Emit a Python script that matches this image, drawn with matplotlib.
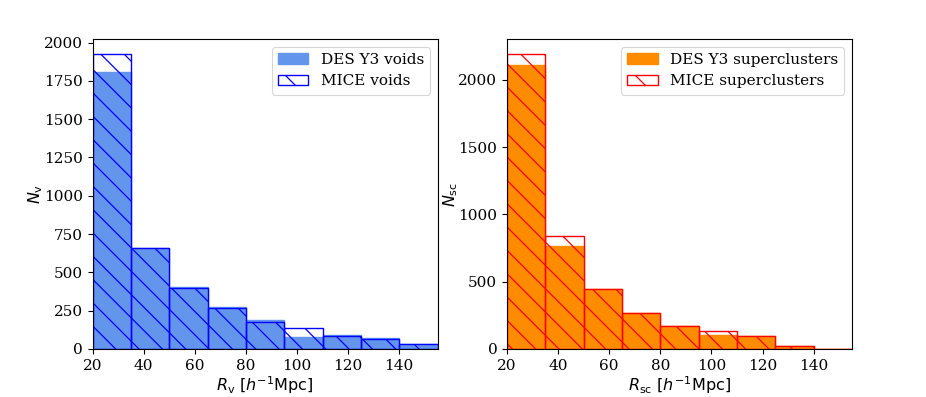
import numpy as np
import matplotlib
matplotlib.use("Agg")
import matplotlib.pyplot as plt

bin_edges = [20, 35, 50, 65, 80, 95, 110, 125, 140, 155]

des_voids = [1805, 660, 405, 274, 190, 78, 91, 69, 34]
mice_voids = [1927, 657, 397, 270, 178, 135, 87, 63, 30]

des_sc = [2109, 767, 447, 268, 171, 106, 97, 25, 1]
mice_sc = [2194, 839, 447, 268, 171, 132, 97, 23, 3]

DPI = 70
k = 100.0 / DPI  # scale point sizes so the picture matches at this dpi

plt.rcParams['font.family'] = ['DejaVu Serif']
plt.rcParams['mathtext.fontset'] = 'dejavusans'
plt.rcParams['hatch.linewidth'] = 0.9 * k
plt.rcParams['axes.linewidth'] = 0.8 * k
plt.rcParams['xtick.major.width'] = 0.8 * k
plt.rcParams['ytick.major.width'] = 0.8 * k
plt.rcParams['xtick.major.size'] = 3.5 * k
plt.rcParams['ytick.major.size'] = 3.5 * k
plt.rcParams['xtick.major.pad'] = 3.5 * k
plt.rcParams['ytick.major.pad'] = 3.5 * k
plt.rcParams['legend.borderpad'] = 0.4
plt.rcParams['legend.framealpha'] = 0.8

fig = plt.figure(figsize=(926 / DPI, 397 / DPI), dpi=DPI)
ax1 = fig.add_axes([92.5 / 926, 48 / 397, 345 / 926, 310 / 397])
ax2 = fig.add_axes([507 / 926, 48 / 397, 345 / 926, 310 / 397])

centers = [(a + b) / 2 for a, b in zip(bin_edges[:-1], bin_edges[1:])]


def panel(ax, des, mice, fillc, edgec, des_lab, mice_lab, xlab, ylab):
    ax.hist(centers, bins=bin_edges, weights=des, color=fillc,
            edgecolor=fillc, linewidth=1.0 * k, label=des_lab)
    ax.hist(centers, bins=bin_edges, weights=mice, fill=False, hatch='\\',
            edgecolor=edgec, linewidth=1.0 * k, label=mice_lab)
    ax.set_xlim(20, 155)
    ax.set_xticks([20, 40, 60, 80, 100, 120, 140])
    ax.set_xlabel(xlab, fontsize=11.5 * k, labelpad=0.8 * k)
    ax.set_ylabel(ylab, fontsize=11.5 * k, labelpad=-1.2 * k)
    ax.tick_params(labelsize=11 * k)
    leg = ax.legend(loc='upper right', fontsize=11 * k)
    leg.get_frame().set_linewidth(0.8 * k)


panel(ax1, des_voids, mice_voids, 'cornflowerblue', 'blue',
      'DES Y3 voids', 'MICE voids',
      r'$R_{\rm v}\ [h^{-1}{\rm Mpc}]$', r'$N_{\rm v}$')
panel(ax2, des_sc, mice_sc, 'darkorange', 'red',
      'DES Y3 superclusters', 'MICE superclusters',
      r'$R_{\rm sc}\ [h^{-1}{\rm Mpc}]$', r'$N_{\rm sc}$')

fig.savefig('out.png', dpi=DPI)
